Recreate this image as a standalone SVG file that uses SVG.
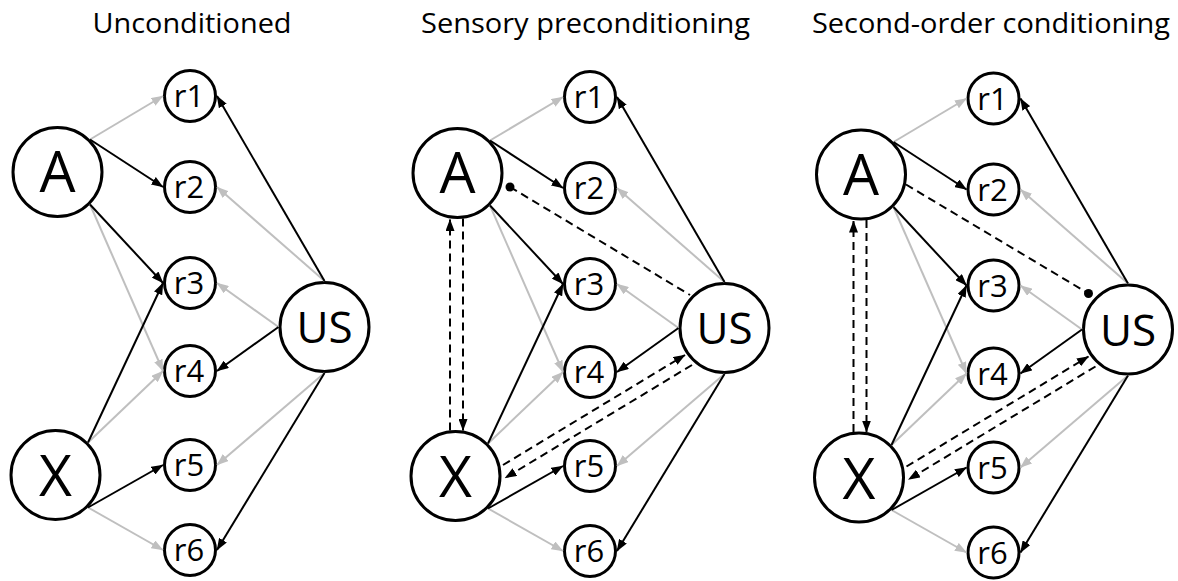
<svg xmlns="http://www.w3.org/2000/svg" width="1178" height="581" viewBox="0 0 1178 581">
  <style>
    .node{fill:#fff;stroke:#000;stroke-width:3}
    .g{fill:none;stroke:#bfbfbf;stroke-width:2;marker-end:url(#ag)}
    .k{fill:none;stroke:#000;stroke-width:2;marker-end:url(#ak)}
    .dash{fill:none;stroke:#000;stroke-width:2;stroke-dasharray:8 5}
    .arr{marker-end:url(#ak)}
    text{font-family:"Open Sans","Liberation Sans",sans-serif;fill:#000;text-anchor:middle}
    .title{font-size:28px}
    .big{font-size:57px}
    .us{font-size:44px}
    .sm{font-size:31px}
  </style>
  <defs>
    <marker id="ak" viewBox="0 0 12 9" refX="11.5" refY="4.5" markerWidth="12" markerHeight="9" markerUnits="userSpaceOnUse" orient="auto">
      <path d="M0,0 L12,4.5 L0,9 Z" fill="#000" stroke="none"/>
    </marker>
    <marker id="ag" viewBox="0 0 12 9" refX="11.5" refY="4.5" markerWidth="12" markerHeight="9" markerUnits="userSpaceOnUse" orient="auto">
      <path d="M0,0 L12,4.5 L0,9 Z" fill="#bfbfbf" stroke="none"/>
    </marker>
  </defs>
  <rect width="1178" height="581" fill="#fff"/>

  <!-- panel titles -->
  <g id="titles">
    <text class="title" x="192" y="33" textLength="199" lengthAdjust="spacingAndGlyphs">Unconditioned</text>
    <text class="title" x="585.5" y="33" textLength="329" lengthAdjust="spacingAndGlyphs">Sensory preconditioning</text>
    <text class="title" x="991" y="33" textLength="358" lengthAdjust="spacingAndGlyphs">Second-order conditioning</text>
  </g>

  <!-- ===== Panel 1: Unconditioned ===== -->
  <g id="panel1">
    <g id="p1-A"><circle class="node" cx="57.5" cy="172" r="44.5"/><text class="big" x="57.5" y="192">A</text></g>
    <g id="p1-X"><circle class="node" cx="55.5" cy="475" r="44.5"/><text class="big" x="55.5" y="496">X</text></g>
    <g id="p1-US"><circle class="node" cx="324.5" cy="327" r="44.5"/><text class="us" x="324.5" y="343">US</text></g>
    <g id="p1-r1"><circle class="node" cx="190" cy="96" r="25.5"/><text class="sm" x="189" y="107">r1</text></g>
    <g id="p1-r2"><circle class="node" cx="190" cy="187" r="25.5"/><text class="sm" x="189" y="198">r2</text></g>
    <g id="p1-r3"><circle class="node" cx="190" cy="283" r="25.5"/><text class="sm" x="189" y="294">r3</text></g>
    <g id="p1-r4"><circle class="node" cx="190" cy="371" r="25.5"/><text class="sm" x="189" y="382">r4</text></g>
    <g id="p1-r5"><circle class="node" cx="190" cy="465" r="25.5"/><text class="sm" x="189" y="476">r5</text></g>
    <g id="p1-r6"><circle class="node" cx="190" cy="550" r="25.5"/><text class="sm" x="189" y="561">r6</text></g>
    <g id="p1-connectors">
      <path class="g" d="M90,139.5 L163,96"/>
      <path class="g" d="M90,204.5 L163,371"/>
      <path class="g" d="M88,442.5 L163,371"/>
      <path class="g" d="M88,507.5 L163,550"/>
      <path class="g" d="M324.5,281 L217,187"/>
      <path class="g" d="M278.5,327 L217,283"/>
      <path class="g" d="M324.5,373 L217,465"/>
      <path class="k" d="M90,139.5 L163,187"/>
      <path class="k" d="M90,204.5 L163,283"/>
      <path class="k" d="M88,442.5 L163,283"/>
      <path class="k" d="M88,507.5 L163,465"/>
      <path class="k" d="M324.5,281 L217,96"/>
      <path class="k" d="M278.5,327 L217,371"/>
      <path class="k" d="M324.5,373 L217,550"/>
    </g>
  </g>

  <!-- ===== Panel 2: Sensory preconditioning ===== -->
  <g id="panel2" transform="translate(400,1)">
    <g id="p2-A"><circle class="node" cx="57.5" cy="172" r="44.5"/><text class="big" x="57.5" y="192">A</text></g>
    <g id="p2-X"><circle class="node" cx="55.5" cy="475" r="44.5"/><text class="big" x="55.5" y="496">X</text></g>
    <g id="p2-US"><circle class="node" cx="324.5" cy="327" r="44.5"/><text class="us" x="324.5" y="343">US</text></g>
    <g id="p2-r1"><circle class="node" cx="190" cy="96" r="25.5"/><text class="sm" x="189" y="107">r1</text></g>
    <g id="p2-r2"><circle class="node" cx="190" cy="187" r="25.5"/><text class="sm" x="189" y="198">r2</text></g>
    <g id="p2-r3"><circle class="node" cx="190" cy="283" r="25.5"/><text class="sm" x="189" y="294">r3</text></g>
    <g id="p2-r4"><circle class="node" cx="190" cy="371" r="25.5"/><text class="sm" x="189" y="382">r4</text></g>
    <g id="p2-r5"><circle class="node" cx="190" cy="465" r="25.5"/><text class="sm" x="189" y="476">r5</text></g>
    <g id="p2-r6"><circle class="node" cx="190" cy="550" r="25.5"/><text class="sm" x="189" y="561">r6</text></g>
    <g id="p2-connectors">
      <path class="g" d="M90,139.5 L163,96"/>
      <path class="g" d="M90,204.5 L163,371"/>
      <path class="g" d="M88,442.5 L163,371"/>
      <path class="g" d="M88,507.5 L163,550"/>
      <path class="g" d="M324.5,281 L217,187"/>
      <path class="g" d="M278.5,327 L217,283"/>
      <path class="g" d="M324.5,373 L217,465"/>
      <path class="k" d="M90,139.5 L163,187"/>
      <path class="k" d="M90,204.5 L163,283"/>
      <path class="k" d="M88,442.5 L163,283"/>
      <path class="k" d="M88,507.5 L163,465"/>
      <path class="k" d="M324.5,281 L217,96"/>
      <path class="k" d="M278.5,327 L217,371"/>
      <path class="k" d="M324.5,373 L217,550"/>
      <!-- learned associations (dashed) -->
      <path class="dash arr" d="M50,429.6 L50,218.5"/>
      <path class="dash arr" d="M63,217.4 L63,429.5"/>
      <path class="dash arr" d="M103,464 L285,354"/>
      <path class="dash arr" d="M292,364 L105,477"/>
      <path class="dash" d="M110,186 L290,294"/>
      <circle cx="110" cy="186" r="4.5" fill="#000"/>
    </g>
  </g>

  <!-- ===== Panel 3: Second-order conditioning ===== -->
  <g id="panel3" transform="translate(803.5,2.5)">
    <g id="p3-A"><circle class="node" cx="57.5" cy="172" r="44.5"/><text class="big" x="57.5" y="192">A</text></g>
    <g id="p3-X"><circle class="node" cx="55.5" cy="475" r="44.5"/><text class="big" x="55.5" y="496">X</text></g>
    <g id="p3-US"><circle class="node" cx="324.5" cy="327" r="44.5"/><text class="us" x="324.5" y="343">US</text></g>
    <g id="p3-r1"><circle class="node" cx="190" cy="96" r="25.5"/><text class="sm" x="189" y="107">r1</text></g>
    <g id="p3-r2"><circle class="node" cx="190" cy="187" r="25.5"/><text class="sm" x="189" y="198">r2</text></g>
    <g id="p3-r3"><circle class="node" cx="190" cy="283" r="25.5"/><text class="sm" x="189" y="294">r3</text></g>
    <g id="p3-r4"><circle class="node" cx="190" cy="371" r="25.5"/><text class="sm" x="189" y="382">r4</text></g>
    <g id="p3-r5"><circle class="node" cx="190" cy="465" r="25.5"/><text class="sm" x="189" y="476">r5</text></g>
    <g id="p3-r6"><circle class="node" cx="190" cy="550" r="25.5"/><text class="sm" x="189" y="561">r6</text></g>
    <g id="p3-connectors">
      <path class="g" d="M90,139.5 L163,96"/>
      <path class="g" d="M90,204.5 L163,371"/>
      <path class="g" d="M88,442.5 L163,371"/>
      <path class="g" d="M88,507.5 L163,550"/>
      <path class="g" d="M324.5,281 L217,187"/>
      <path class="g" d="M278.5,327 L217,283"/>
      <path class="g" d="M324.5,373 L217,465"/>
      <path class="k" d="M90,139.5 L163,187"/>
      <path class="k" d="M90,204.5 L163,283"/>
      <path class="k" d="M88,442.5 L163,283"/>
      <path class="k" d="M88,507.5 L163,465"/>
      <path class="k" d="M324.5,281 L217,96"/>
      <path class="k" d="M278.5,327 L217,371"/>
      <path class="k" d="M324.5,373 L217,550"/>
      <!-- learned associations (dashed) -->
      <path class="dash arr" d="M50,429.6 L50,218.5"/>
      <path class="dash arr" d="M63,217.4 L63,429.5"/>
      <path class="dash arr" d="M103,464 L285,354"/>
      <path class="dash arr" d="M292,364 L105,477"/>
      <path class="dash" d="M102.5,182 L285,291"/>
      <circle cx="285" cy="291" r="4.5" fill="#000"/>
    </g>
  </g>
</svg>
